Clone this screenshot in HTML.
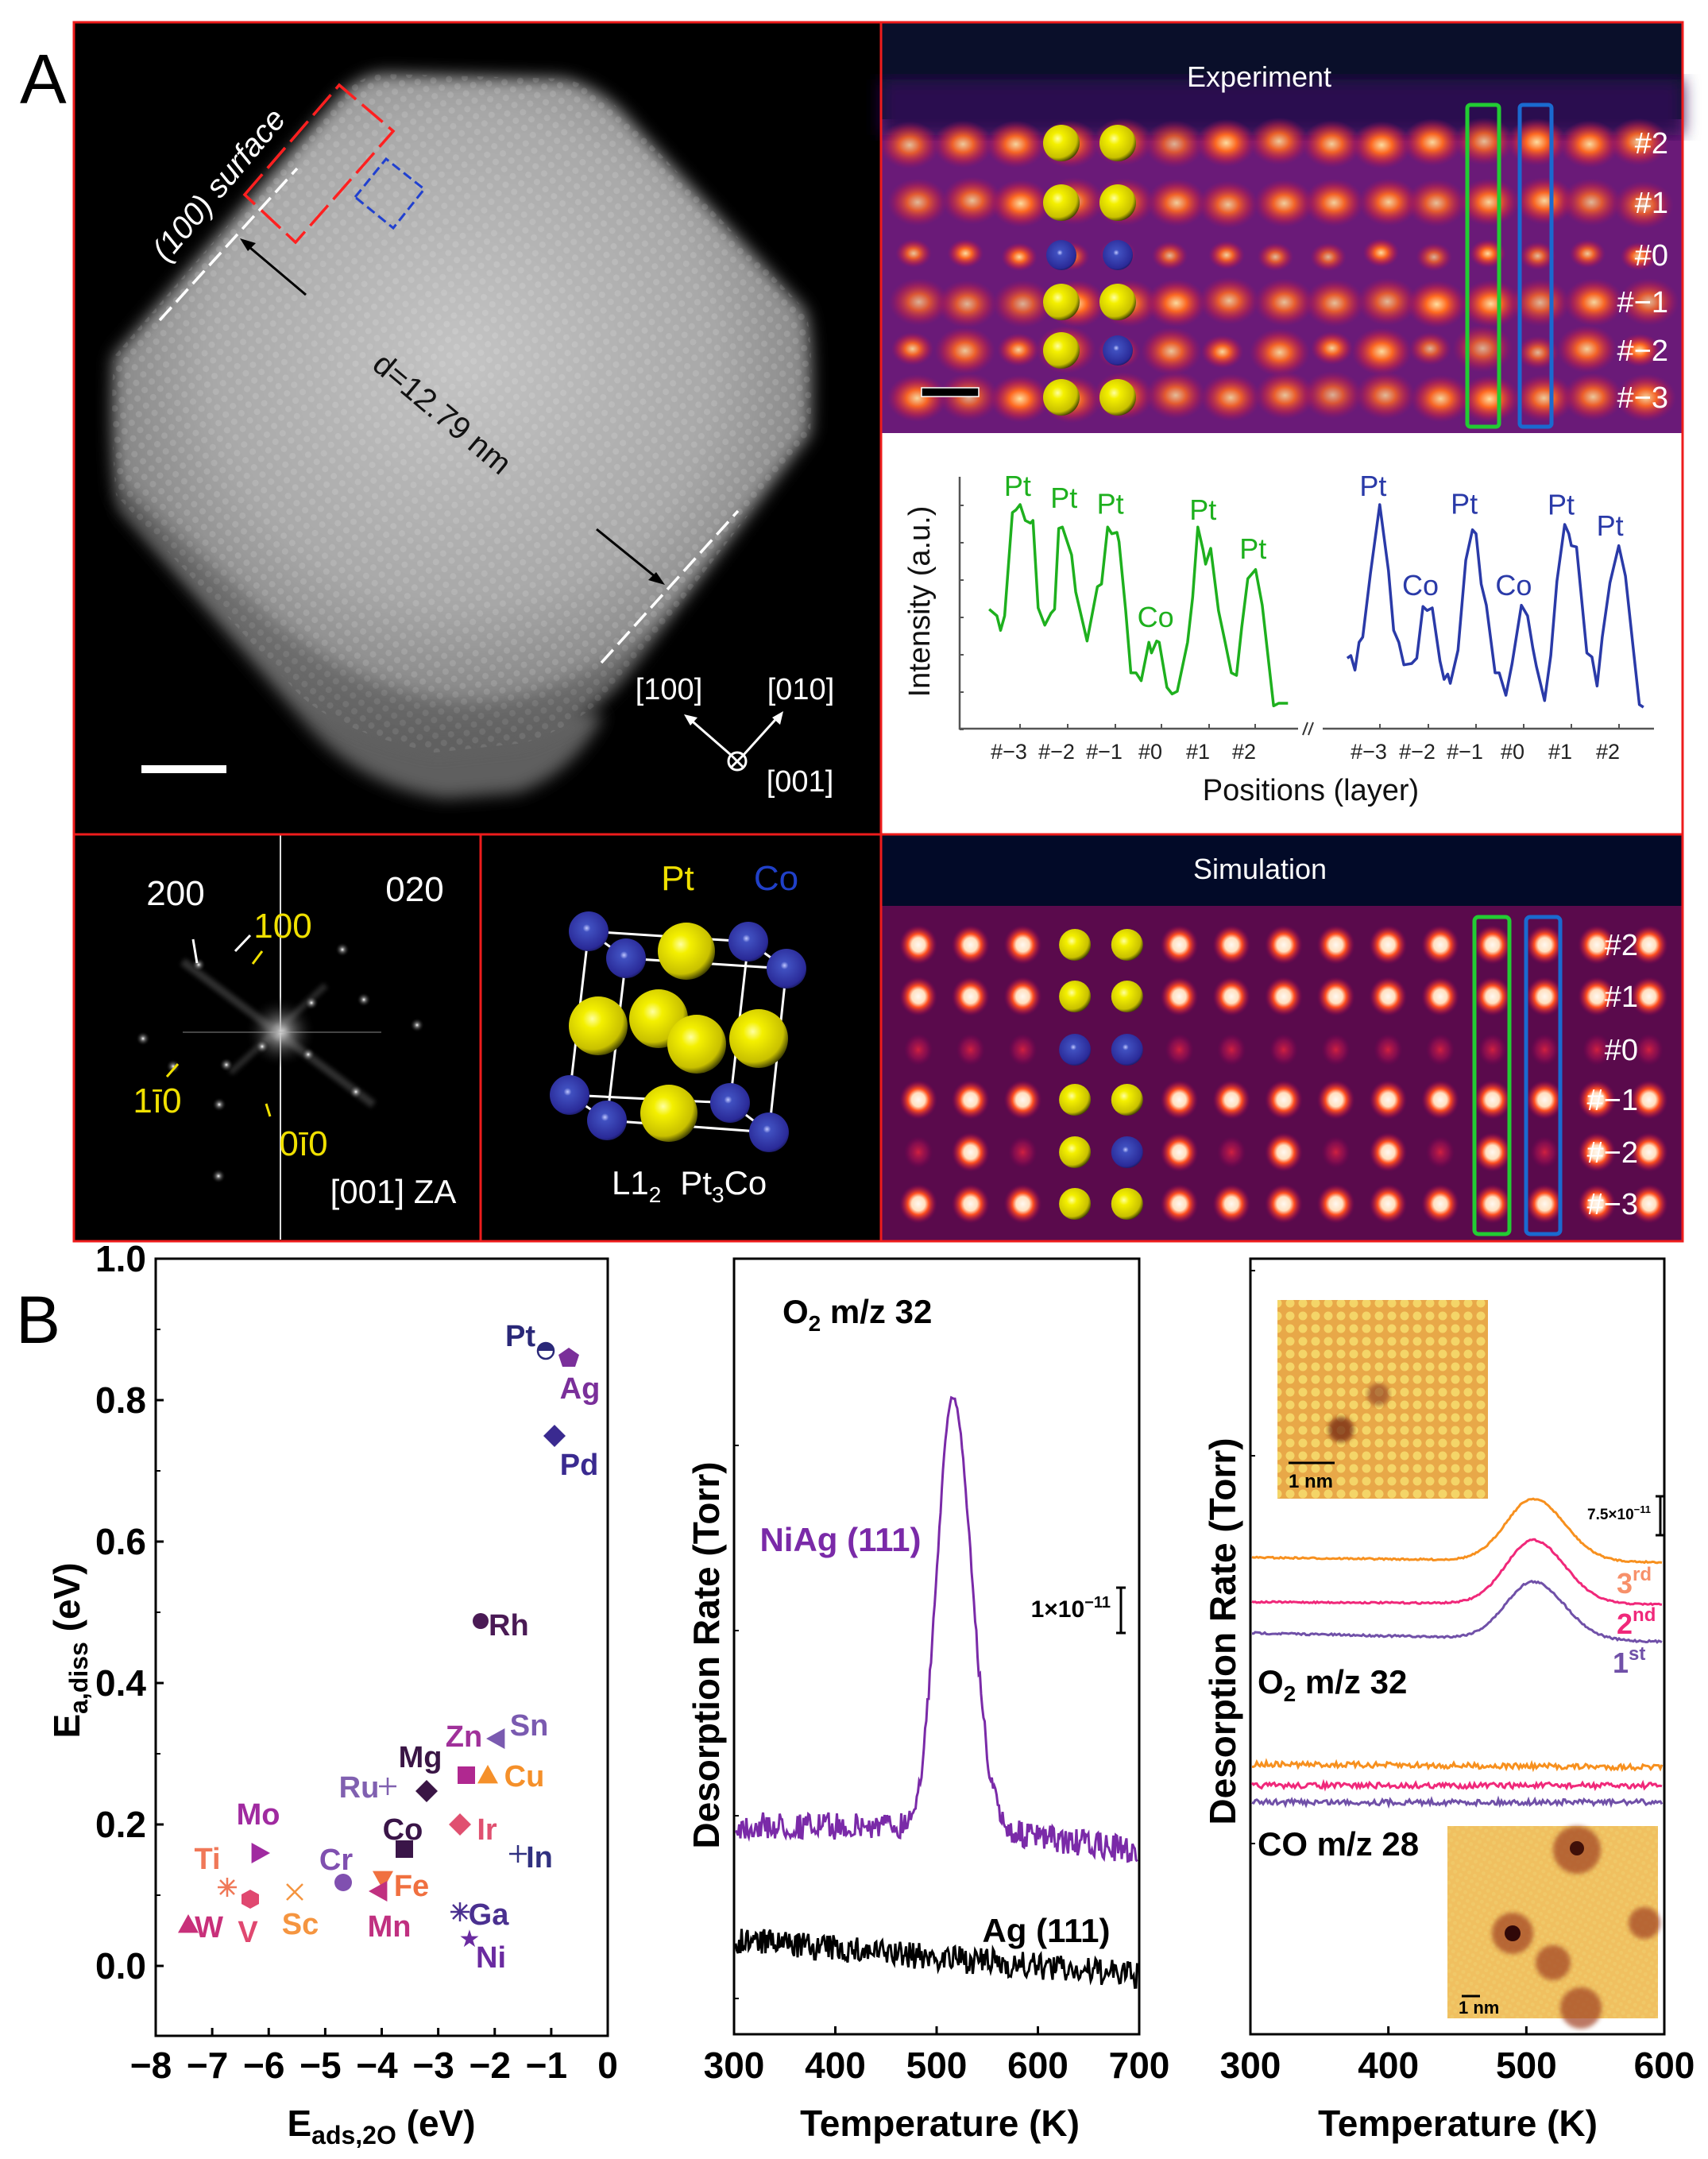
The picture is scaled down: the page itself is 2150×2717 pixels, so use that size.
<!DOCTYPE html>
<html><head><meta charset="utf-8"><style>
html,body{margin:0;padding:0;background:#fff}
svg{display:block}
text{font-family:"Liberation Sans",Arial,sans-serif}
.b{font-weight:bold}
</style></head><body>
<svg id="s" width="2150" height="2717" viewBox="0 0 2150 2717" xmlns="http://www.w3.org/2000/svg">
<defs>
<radialGradient id="ysph" cx="0.4" cy="0.38" r="0.65"><stop offset="0" stop-color="#ffffa0"/><stop offset="0.25" stop-color="#f4f000"/><stop offset="0.8" stop-color="#c8c000"/><stop offset="1" stop-color="#404000"/></radialGradient>
<radialGradient id="bsph" cx="0.45" cy="0.42" r="0.65"><stop offset="0" stop-color="#c0c8ff"/><stop offset="0.15" stop-color="#4050c0"/><stop offset="0.8" stop-color="#2a2a98"/><stop offset="1" stop-color="#101040"/></radialGradient>
<radialGradient id="blob"><stop offset="0" stop-color="#ffe0a0"/><stop offset="0.35" stop-color="#ff6a20"/><stop offset="0.7" stop-color="#d02840" stop-opacity="0.6"/><stop offset="1" stop-color="#a01060" stop-opacity="0"/></radialGradient>
<radialGradient id="sblob"><stop offset="0" stop-color="#fff8f0"/><stop offset="0.35" stop-color="#ffe0c0"/><stop offset="0.55" stop-color="#ff5020"/><stop offset="0.8" stop-color="#c02040" stop-opacity="0.5"/><stop offset="1" stop-color="#800050" stop-opacity="0"/></radialGradient>
<radialGradient id="dblob"><stop offset="0" stop-color="#d02040"/><stop offset="0.6" stop-color="#a01050" stop-opacity="0.6"/><stop offset="1" stop-color="#800050" stop-opacity="0"/></radialGradient>
<radialGradient id="part" cx="0.5" cy="0.42" r="0.6"><stop offset="0" stop-color="#c4c4c4"/><stop offset="0.6" stop-color="#a8a8a8"/><stop offset="1" stop-color="#707070"/></radialGradient>
<radialGradient id="star"><stop offset="0" stop-color="#fff"/><stop offset="0.3" stop-color="#aaa" stop-opacity="0.6"/><stop offset="1" stop-color="#000" stop-opacity="0"/></radialGradient>
<filter id="blur8"><feGaussianBlur stdDeviation="10"/></filter>
<filter id="blur3"><feGaussianBlur stdDeviation="3"/></filter>
<pattern id="lat" width="14" height="14" patternUnits="userSpaceOnUse" patternTransform="rotate(40)"><circle cx="7" cy="7" r="4" fill="#fff" opacity="0.12"/></pattern>
<pattern id="stmp" width="16" height="16" patternUnits="userSpaceOnUse"><circle cx="8" cy="8" r="5.5" fill="#f8e070" opacity="0.8"/></pattern>
<pattern id="stmp2" width="8" height="8" patternUnits="userSpaceOnUse" patternTransform="rotate(30)"><circle cx="4" cy="4" r="2.5" fill="#f0d070" opacity="0.5"/></pattern>
</defs>

<text x="25" y="130" font-size="88" fill="#000">A</text>
<rect x="93" y="28" width="2025" height="1534" fill="#000"/>
<!-- darker lower band -->
<path d="M150,640 L380,905 Q450,990 560,1005 L650,998 Q720,975 760,900 L700,890 Q560,900 420,840 Q260,740 150,620Z" fill="#5e5e5e" filter="url(#blur8)"/>
<path d="M482,93 L709,99 Q760,110 800,160 L1013,390 Q1025,420 1020,546 L790,846 Q740,910 660,935 L547,947 Q420,920 372,869 L146,623 Q138,540 143,449 L420,130 Q450,95 482,93Z" fill="url(#part)" filter="url(#blur8)"/>
<path d="M482,93 L709,99 Q760,110 800,160 L1013,390 Q1025,420 1020,546 L790,846 Q740,910 660,935 L547,947 Q420,920 372,869 L146,623 Q138,540 143,449 L420,130 Q450,95 482,93Z" fill="url(#lat)"/>
<path d="M146,623 L372,869 Q420,920 547,947 L660,935 Q740,910 790,846 L860,760 Q700,900 560,880 Q420,860 300,740 Q200,650 146,600Z" fill="#000" opacity="0.2" filter="url(#blur8)"/>
<polygon points="308,245 427,107 495,165 372,305" fill="none" stroke="#ff2020" stroke-width="3.5" stroke-dasharray="34,10"/>
<polygon points="447,248 486,200 534,238 495,287" fill="none" stroke="#2040d0" stroke-width="3" stroke-dasharray="12,6"/>
<line x1="201" y1="403" x2="374" y2="212" stroke="#fff" stroke-width="3.5" stroke-dasharray="22,9"/>
<line x1="757" y1="834" x2="929" y2="643" stroke="#fff" stroke-width="3.5" stroke-dasharray="22,9"/>
<line x1="385" y1="371" x2="308" y2="306" stroke="#000" stroke-width="3"/><polygon points="302,300 322,306 312,316" fill="#000"/>
<line x1="751" y1="666" x2="830" y2="730" stroke="#000" stroke-width="3"/><polygon points="837,736 816,730 826,720" fill="#000"/>
<text transform="translate(275,232) rotate(-50)" text-anchor="middle" font-size="40" fill="#fff" dy="14" font-style="italic">(100) surface</text>
<text transform="translate(557,520) rotate(40)" text-anchor="middle" font-size="40" fill="#111" dy="14">d=12.79 nm</text>
<rect x="178" y="963" width="107" height="10" fill="#fff"/>
<text x="842" y="880" text-anchor="middle" font-size="38" fill="#fff">[100]</text>
<text x="1008" y="880" text-anchor="middle" font-size="38" fill="#fff">[010]</text>
<text x="1007" y="996" text-anchor="middle" font-size="38" fill="#fff">[001]</text>
<circle cx="928" cy="958" r="11" fill="none" stroke="#fff" stroke-width="3"/>
<path d="M920,950 L936,966 M936,950 L920,966 M920,950 L866,903 M936,950 L982,899" stroke="#fff" stroke-width="3"/>
<polygon points="861,899 878,903 869,913" fill="#fff"/><polygon points="986,895 982,912 972,903" fill="#fff"/>

<g id="exp"><rect x="1109" y="28" width="1009" height="517" fill="#0a0f2a"/>
<rect x="1109" y="150" width="1009" height="395" fill="#6a1a78"/>
<rect x="1109" y="100" width="1009" height="70" fill="#2a1050" filter="url(#blur8)"/></g>
<text x="1585" y="109" text-anchor="middle" font-size="36" fill="#fff">Experiment</text>

<rect x="1109" y="545" width="1009" height="505" fill="#fff"/>
<g id="intens"></g>

<g id="fft">
<line x1="353" y1="1050" x2="353" y2="1560" stroke="#ddd" stroke-width="2"/>
<circle cx="353" cy="1299" r="45" fill="url(#star)"/>
<line x1="230" y1="1210" x2="470" y2="1390" stroke="#888" stroke-width="10" opacity="0.35" filter="url(#blur3)"/>
<line x1="290" y1="1350" x2="410" y2="1240" stroke="#888" stroke-width="8" opacity="0.3" filter="url(#blur3)"/>
<line x1="230" y1="1299" x2="480" y2="1299" stroke="#aaa" stroke-width="2" opacity="0.4"/>
</g>
<text x="221" y="1139" text-anchor="middle" font-size="44" fill="#fff">200</text>
<text x="522" y="1134" text-anchor="middle" font-size="44" fill="#fff">020</text>
<text x="356" y="1180" text-anchor="middle" font-size="44" fill="#f0e000">100</text>
<text x="198" y="1400" text-anchor="middle" font-size="44" fill="#f0e000">1ī0</text>
<text x="382" y="1454" text-anchor="middle" font-size="44" fill="#f0e000">0ī0</text>
<text x="495" y="1514" text-anchor="middle" font-size="42" fill="#fff">[001] ZA</text>
<path d="M243,1182 L248,1212 M315,1177 L296,1197" stroke="#fff" stroke-width="3"/>
<path d="M330,1197 L318,1213 M224,1339 L210,1355 M335,1389 L340,1405" stroke="#f0e000" stroke-width="3"/>

<g stroke="#fff" stroke-width="3" fill="none">
<path d="M741,1172 L942,1185 L990,1219 L788,1206 Z M717,1378 L919,1388 L968,1425 L764,1410 Z M741,1172 L717,1378 M788,1206 L764,1410 M942,1185 L919,1388 M990,1219 L968,1425"/>
</g>
<g id="cube"></g>
<text x="853" y="1120" text-anchor="middle" font-size="44" fill="#f0e000">Pt</text>
<text x="977" y="1120" text-anchor="middle" font-size="44" fill="#2040c8">Co</text>
<text x="770" y="1503" font-size="42" fill="#fff">L1<tspan font-size="28" dy="10">2</tspan><tspan dy="-10" dx="24">Pt</tspan><tspan font-size="28" dy="10">3</tspan><tspan dy="-10">Co</tspan></text>

<rect x="1109" y="1050" width="1009" height="512" fill="#020a28"/>
<rect x="1109" y="1140" width="1009" height="422" fill="#5a0a4c"/>
<g id="sim"></g>
<text x="1586" y="1106" text-anchor="middle" font-size="36" fill="#fff">Simulation</text>

<g stroke="#ee1c1c" stroke-width="3" fill="none">
<rect x="93" y="28" width="2025" height="1534"/>
<line x1="1109" y1="28" x2="1109" y2="1562"/>
<line x1="93" y1="1050" x2="2118" y2="1050"/>
<line x1="605" y1="1050" x2="605" y2="1562"/>
</g>

<text x="20" y="1690" font-size="84" fill="#000">B</text>
<g id="p1"></g>
<g id="p2"></g>
<g id="p3"></g>
</svg>
<script>
var NS="http://www.w3.org/2000/svg";
function el(p,t,a,txt){var e=document.createElementNS(NS,t);for(var k in a)e.setAttribute(k,a[k]);if(txt!=null)e.textContent=txt;document.getElementById(p).appendChild(e);return e;}
var seed=7;function rnd(){seed=(seed*16807)%2147483647;return seed/2147483647;}
function ptsPath(arr){return arr.map(function(p,i){return (i?"L":"M")+p[0].toFixed(1)+","+p[1].toFixed(1);}).join("");}

var rowsE=[180,255,321,380,441,500];
for(var r=0;r<6;r++){for(var c=0;c<15;c++){var x=1149+c*65.5+(r%2?6:0);var s=(r==2)?0.6:(r==4&&c%2==0?0.7:1);
 el("exp","ellipse",{cx:x+rnd()*8-4,cy:rowsE[r]+rnd()*6-3,rx:38*s,ry:30*s,fill:"url(#blob)",opacity:0.75+rnd()*0.25});}}
for(var i=0;i<6;i++){
 var cols=[1336,1407];for(var j=0;j<2;j++){var blue=(i==2)||(i==4&&j==1);
 el("exp","circle",{cx:cols[j],cy:rowsE[i],r:blue?19:23,fill:blue?"url(#bsph)":"url(#ysph)"});}}
el("exp","rect",{x:1160,y:488,width:72,height:11,fill:"#000",stroke:"#fff","stroke-width":1.5});
el("exp","rect",{x:1847,y:132,width:40,height:405,rx:4,fill:"none",stroke:"#22cc33","stroke-width":5});
el("exp","rect",{x:1913,y:132,width:40,height:405,rx:4,fill:"none",stroke:"#1a6ad0","stroke-width":5});
var labs=["#2","#1","#0","#−1","#−2","#−3"];
labs.forEach(function(l,i){el("exp","text",{x:2100,y:rowsE[i]+13,"text-anchor":"end","font-size":38,fill:"#fff"},l);});

var rowsS=[1189,1254,1321,1384,1450,1515];
for(var r=0;r<6;r++){for(var c=0;c<15;c++){if(c==3||c==4)continue;var x=1156+c*65.7;
 var dim=(r==2)||(r==4&&(c%2==0)&&c<13)||(r==4&&c==12);
 el("sim","ellipse",{cx:x,cy:rowsS[r],rx:dim?18:24,ry:dim?20:25,fill:dim?"url(#dblob)":"url(#sblob)"});}
 for(var j=0;j<2;j++){var blue=(r==2)||(r==4&&j==1);el("sim","circle",{cx:1156+(3+j)*65.7,cy:rowsS[r],r:20,fill:blue?"url(#bsph)":"url(#ysph)"});}
 el("sim","text",{x:2062,y:rowsS[r]+13,"text-anchor":"end","font-size":38,fill:"#fff"},labs[r]);}
el("sim","rect",{x:1856,y:1154,width:44,height:399,rx:5,fill:"none",stroke:"#22cc33","stroke-width":5});
el("sim","rect",{x:1921,y:1154,width:43,height:399,rx:5,fill:"none",stroke:"#1a6ad0","stroke-width":5});

[[741,1172],[942,1185]].forEach(function(p){el("cube","circle",{cx:p[0],cy:p[1],r:25,fill:"url(#bsph)"});});
el("cube","circle",{cx:864,cy:1197,r:36,fill:"url(#ysph)"});
[[788,1206],[990,1219]].forEach(function(p){el("cube","circle",{cx:p[0],cy:p[1],r:25,fill:"url(#bsph)"});});
[[753,1291],[829,1282],[955,1307],[877,1314]].forEach(function(p){el("cube","circle",{cx:p[0],cy:p[1],r:37,fill:"url(#ysph)"});});
[[717,1378],[919,1388]].forEach(function(p){el("cube","circle",{cx:p[0],cy:p[1],r:25,fill:"url(#bsph)"});});
el("cube","circle",{cx:842,cy:1401,r:36,fill:"url(#ysph)"});
[[764,1410],[968,1425]].forEach(function(p){el("cube","circle",{cx:p[0],cy:p[1],r:25,fill:"url(#bsph)"});});
[[250,1214],[431,1195],[330,1317],[392,1262],[285,1340],[388,1327],[276,1390],[448,1374],[180,1307],[525,1290],[218,1342],[458,1258],[275,1480]].forEach(function(p){el("fft","circle",{cx:p[0],cy:p[1],r:9,fill:"url(#star)"});});

function conv(a){return a.map(function(p){return [1109+p[0]/1.542,545+p[1]/3];});}
var G=[[210,665],[225,690],[232,745],[240,690],[255,300],[262,290],[270,270],[280,330],[290,340],[295,330],[305,660],[318,725],[330,680],[337,665],[345,360],[352,355],[370,460],[378,600],[400,785],[420,580],[428,570],[440,355],[448,380],[458,375],[462,410],[475,670],[485,905],[495,905],[505,935],[520,790],[525,830],[535,785],[540,790],[555,960],[565,985],[575,975],[595,790],[605,620],[615,355],[625,440],[630,495],[640,435],[655,670],[668,790],[680,905],[690,915],[700,735],[712,550],[727,515],[740,650],[762,1030],[772,1020],[790,1020]];
var B=[[905,850],[912,840],[920,895],[928,790],[935,770],[950,530],[968,270],[985,520],[995,745],[1005,790],[1015,875],[1030,870],[1040,850],[1052,655],[1060,670],[1070,660],[1085,860],[1093,930],[1100,910],[1105,945],[1120,820],[1135,480],[1148,365],[1155,380],[1165,570],[1175,650],[1192,905],[1200,905],[1213,990],[1225,870],[1243,650],[1255,690],[1265,810],[1272,880],[1288,1010],[1300,840],[1312,560],[1327,345],[1335,380],[1340,425],[1350,430],[1370,830],[1380,845],[1390,955],[1400,770],[1415,565],[1432,425],[1445,540],[1460,810],[1472,1025],[1480,1035]];
el("intens","path",{d:ptsPath(conv(G)),fill:"none",stroke:"#1eb01e","stroke-width":3.5,"stroke-linejoin":"round"});
el("intens","path",{d:ptsPath(conv(B)),fill:"none",stroke:"#2a3aa8","stroke-width":3.5,"stroke-linejoin":"round"});
el("intens","path",{d:"M1208,600 L1208,917 L1634,917 M1665,917 L2082,917",fill:"none",stroke:"#555","stroke-width":2.5});
el("intens","path",{d:"M1640,925 L1646,909 M1647,925 L1653,909",fill:"none",stroke:"#333","stroke-width":2});
for(var k=0;k<7;k++){var yy=636+k*47;el("intens","line",{x1:1208,x2:1213,y1:yy,y2:yy,stroke:"#555","stroke-width":2});}
var t1=[1284,1344,1404,1462,1522,1580],t2=[1737,1798,1858,1918,1978,2038],tl=["#−3","#−2","#−1","#0","#1","#2"];
t1.concat(t2).forEach(function(x,i){el("intens","line",{x1:x,x2:x,y1:917,y2:911,stroke:"#555","stroke-width":2});
 el("intens","text",{x:x-14,y:955,"text-anchor":"middle","font-size":27,fill:"#222"},tl[i%6]);});
el("intens","text",{x:1650,y:1007,"text-anchor":"middle","font-size":38,fill:"#111"},"Positions (layer)");
el("intens","text",{transform:"translate(1170,757) rotate(-90)","text-anchor":"middle","font-size":38,fill:"#111"},"Intensity (a.u.)");
[[265,195],[355,240],[445,262],[625,285],[722,432]].forEach(function(p){el("intens","text",{x:1109+p[0]/1.542,y:545+p[1]/3+14,"text-anchor":"middle","font-size":36,fill:"#1eb01e"},"Pt");});
el("intens","text",{x:1109+533/1.542,y:545+690/3+14,"text-anchor":"middle","font-size":36,fill:"#1eb01e"},"Co");
[[955,195],[1132,262],[1320,265],[1415,345]].forEach(function(p){el("intens","text",{x:1109+p[0]/1.542,y:545+p[1]/3+14,"text-anchor":"middle","font-size":36,fill:"#2a3aa8"},"Pt");});
[[1047,570],[1228,570]].forEach(function(p){el("intens","text",{x:1109+p[0]/1.542,y:545+p[1]/3+14,"text-anchor":"middle","font-size":36,fill:"#2a3aa8"},"Co");});

var L=196,R=765,T=1584,Bt=2562;
function X1(v){return L+(v+8)*(R-L)/8;} function Y1(v){return 2474-v*890;}
el("p1","rect",{x:L,y:T,width:R-L,height:Bt-T,fill:"none",stroke:"#000","stroke-width":3});
for(var v=0;v<=5;v++){var y=Y1(v*0.2);el("p1","line",{x1:L,x2:L+10,y1:y,y2:y,stroke:"#000","stroke-width":3});
 el("p1","text",{x:184,y:y+16,"text-anchor":"end","font-size":46,"class":"b"},(v*0.2).toFixed(1));
 if(v<5){var y2=Y1(v*0.2+0.1);el("p1","line",{x1:L,x2:L+6,y1:y2,y2:y2,stroke:"#000","stroke-width":2});}}
for(var v=-8;v<=0;v++){var x=X1(v);el("p1","line",{x1:x,x2:x,y1:Bt,y2:Bt-10,stroke:"#000","stroke-width":3});
 el("p1","text",{x:x-(v<0?6:0),y:2615,"text-anchor":"middle","font-size":46,"class":"b"},v<0?"−"+(-v):"0");}
el("p1","text",{x:480,y:2688,"text-anchor":"middle","font-size":46,"class":"b"}).innerHTML='E<tspan font-size="32" dy="10">ads,2O</tspan><tspan dy="-10"> (eV)</tspan>';
el("p1","text",{transform:"translate(100,2077) rotate(-90)","text-anchor":"middle","font-size":46,"class":"b"}).innerHTML='E<tspan font-size="32" dy="10">a,diss</tspan><tspan dy="-10"> (eV)</tspan>';
function lab(x,y,t,c,anc){el("p1","text",{x:x,y:y+14,"text-anchor":anc||"middle","font-size":38,"class":"b",fill:c},t);}
function tri(x,y,dir,c,s){s=s||13;var p;if(dir=="u")p=[[x,y-s],[x+s,y+s*0.8],[x-s,y+s*0.8]];if(dir=="d")p=[[x,y+s],[x+s,y-s*0.8],[x-s,y-s*0.8]];if(dir=="l")p=[[x-s,y],[x+s*0.8,y-s],[x+s*0.8,y+s]];if(dir=="r")p=[[x+s,y],[x-s*0.8,y-s],[x-s*0.8,y+s]];el("p1","polygon",{points:p.map(function(a){return a.join(",");}).join(" "),fill:c});}
function dia(x,y,c){el("p1","polygon",{points:[x,y-14,x+14,y,x,y+14,x-14,y].join(","),fill:c});}
function sq(x,y,c){el("p1","rect",{x:x-11,y:y-11,width:22,height:22,fill:c});}
function plus(x,y,c){el("p1","path",{d:"M"+(x-11)+","+y+"h22M"+x+","+(y-11)+"v22",stroke:c,"stroke-width":2.5});}
function ast(x,y,c){el("p1","path",{d:"M"+(x-12)+","+y+"h24M"+x+","+(y-12)+"v24M"+(x-9)+","+(y-9)+"l18,18M"+(x+9)+","+(y-9)+"l-18,18",stroke:c,"stroke-width":2.5});}
lab(655,1680,"Pt","#2a2878");
el("p1","circle",{cx:687,cy:1700,r:10,fill:"#fff",stroke:"#2a2878","stroke-width":2.5});el("p1","path",{d:"M677,1700 A10,10 0 0 1 697,1700Z",fill:"#2a2878"});
el("p1","polygon",{points:"716,1696 729,1705 724,1720 708,1720 703,1705",fill:"#7a2f9a"});lab(730,1746,"Ag","#7a2f9a");
dia(698,1807,"#3a2a90");lab(729,1842,"Pd","#3a2a90");
el("p1","circle",{cx:605,cy:2040,r:10,fill:"#4a1a55"});lab(615,2044,"Rh","#4a1a55","start");
tri(625,2188,"l","#7a5ab0");lab(666,2170,"Sn","#7a5ab0");lab(584,2184,"Zn","#a0309a");
dia(537,2254,"#3a1545");lab(529,2210,"Mg","#3a1545");
lab(452,2248,"Ru","#8060b0");plus(488,2248,"#8060b0");
sq(587,2234,"#b02890");tri(614,2234,"u","#f5902a");lab(660,2234,"Cu","#f5902a");
dia(579,2296,"#e05070");lab(613,2301,"Ir","#e05070");
sq(509,2327,"#3a1548");lab(507,2301,"Co","#3a1548");
plus(652,2333,"#303080");lab(679,2336,"In","#303080");
tri(327,2332,"r","#a02aa0");lab(325,2282,"Mo","#a02aa0");
lab(261,2338,"Ti","#f07858");ast(286,2375,"#f07858");
el("p1","circle",{cx:432,cy:2369,r:11,fill:"#8050b0"});lab(423,2339,"Cr","#8050b0");
tri(482,2365,"d","#f07040");lab(518,2372,"Fe","#f07040");
tri(477,2380,"l","#c03080");lab(490,2423,"Mn","#c03080");
el("p1","path",{d:"M361,2371l20,20M381,2371l-20,20",stroke:"#f59540","stroke-width":2.5});lab(378,2420,"Sc","#f59540");
el("p1","polygon",{points:"315,2378 326,2384 326,2396 315,2402 304,2396 304,2384",fill:"#e04870"});lab(312,2430,"V","#e04870");
tri(237,2422,"u","#c8307a");lab(263,2424,"W","#c8307a");
ast(579,2406,"#4a3090");lab(615,2408,"Ga","#4a3090");
el("p1","text",{x:591,y:2450,"text-anchor":"middle","font-size":30,fill:"#6a2aa0"},"★");lab(618,2462,"Ni","#6a2aa0");

var L2=924,R2=1434;
el("p2","rect",{x:L2,y:1584,width:R2-L2,height:2560-1584,fill:"none",stroke:"#000","stroke-width":3});
[1819,2052,2285,2515].forEach(function(y){el("p2","line",{x1:L2,x2:L2+6,y1:y,y2:y,stroke:"#000","stroke-width":2});});
for(var v=300;v<=700;v+=100){var x=L2+(v-300)*(R2-L2)/400;el("p2","line",{x1:x,x2:x,y1:2560,y2:2550,stroke:"#000","stroke-width":3});
 el("p2","text",{x:x,y:2615,"text-anchor":"middle","font-size":46,"class":"b"},v);}
el("p2","text",{x:1183,y:2688,"text-anchor":"middle","font-size":46,"class":"b"},"Temperature (K)");
el("p2","text",{transform:"translate(905,2083) rotate(-90)","text-anchor":"middle","font-size":46,"class":"b"},"Desorption Rate (Torr)");
el("p2","text",{x:985,y:1665,"font-size":42,"class":"b"}).innerHTML='O<tspan font-size="28" dy="10">2</tspan><tspan dy="-10"> m/z 32</tspan>';
var pp=[],pb=[];
for(var x=L2+2;x<=R2-2;x+=1.5){var t=300+(x-L2)*400/(R2-L2);
 var base=2298+(t>520?(t-520)/180*32:0);
 var pk=540*Math.exp(-Math.pow((t-516)/(t<516?22:26),2));
 var n=(rnd()-0.5)*34*(1-pk/600);
 pp.push([x,base-pk+n]);
 pb.push([x,2441+(t-300)/400*45+(rnd()-0.5)*34]);}
el("p2","path",{d:ptsPath(pp),fill:"none",stroke:"#7a2aa8","stroke-width":3});
el("p2","path",{d:ptsPath(pb),fill:"none",stroke:"#000","stroke-width":3});
el("p2","text",{x:1058,y:1952,"text-anchor":"middle","font-size":42,"class":"b",fill:"#7a2aa8"},"NiAg (111)");
el("p2","text",{x:1317,y:2444,"text-anchor":"middle","font-size":42,"class":"b"},"Ag (111)");
el("p2","path",{d:"M1405,1998h12M1411,1998v57M1405,2055h12",stroke:"#000","stroke-width":3,fill:"none"});
el("p2","text",{x:1398,y:2035,"text-anchor":"end","font-size":30,"class":"b"}).innerHTML='1×10<tspan font-size="20" dy="-12">−11</tspan>';

var L3=1574,R3=2095;
el("p3","rect",{x:1608,y:1636,width:265,height:250,fill:"#e8a848"});
el("p3","rect",{x:1608,y:1636,width:265,height:250,fill:"url(#stmp)"});
el("p3","circle",{cx:1688,cy:1799,r:16,fill:"#6a1a10",opacity:0.7,filter:"url(#blur3)"});
el("p3","circle",{cx:1735,cy:1755,r:14,fill:"#8a3a20",opacity:0.6,filter:"url(#blur3)"});
el("p3","line",{x1:1622,y1:1841,x2:1680,y2:1841,stroke:"#000","stroke-width":3});
el("p3","text",{x:1622,y:1872,"font-size":24,"class":"b"},"1 nm");
el("p3","rect",{x:1822,y:2298,width:265,height:242,fill:"#f0c060"});
el("p3","rect",{x:1822,y:2298,width:265,height:242,fill:"url(#stmp2)"});
[[1904,2433,26],[1985,2328,30],[1990,2527,26],[2070,2420,20],[1955,2470,22]].forEach(function(c){el("p3","circle",{cx:c[0],cy:c[1],r:c[2],fill:"#a04020",opacity:0.7,filter:"url(#blur3)"});});
el("p3","circle",{cx:1904,cy:2433,r:10,fill:"#300808"});el("p3","circle",{cx:1985,cy:2326,r:9,fill:"#401008"});
el("p3","line",{x1:1840,y1:2512,x2:1863,y2:2512,stroke:"#000","stroke-width":3});
el("p3","text",{x:1836,y:2534,"font-size":22,"class":"b"},"1 nm");
el("p3","rect",{x:L3,y:1584,width:R3-L3,height:2560-1584,fill:"none",stroke:"#000","stroke-width":3});
[1599,1832,2320].forEach(function(y){el("p3","line",{x1:L3,x2:L3+6,y1:y,y2:y,stroke:"#000","stroke-width":2});});
for(var v=300;v<=600;v+=100){var x=L3+(v-300)*(R3-L3)/300;el("p3","line",{x1:x,x2:x,y1:2560,y2:2550,stroke:"#000","stroke-width":3});
 el("p3","text",{x:x,y:2615,"text-anchor":"middle","font-size":46,"class":"b"},v);}
el("p3","text",{x:1835,y:2688,"text-anchor":"middle","font-size":46,"class":"b"},"Temperature (K)");
el("p3","text",{transform:"translate(1555,2053) rotate(-90)","text-anchor":"middle","font-size":46,"class":"b"},"Desorption Rate (Torr)");
function tpd(b0,b1,h,c,noise){var a=[];for(var x=L3+2;x<=R3-2;x+=2){var t=300+(x-L3)*300/(R3-L3);
 var pk=h*Math.exp(-Math.pow((t-505)/(t<505?28:32),2));a.push([x,b0+(b1-b0)*(t-300)/300-pk+(rnd()-0.5)*noise]);}
 el("p3","path",{d:ptsPath(a),fill:"none",stroke:c,"stroke-width":3});}
tpd(1960,1966,78,"#f7901e",2);tpd(2016,2019,80,"#f0287a",2);tpd(2055,2066,72,"#7050a8",2.5);
tpd(2220,2224,0,"#f7901e",7);tpd(2247,2247,0,"#f0287a",7);tpd(2268,2268,0,"#7050a8",7);
el("p3","path",{d:"M2084,1883h12M2090,1883v49M2084,1932h12",stroke:"#000","stroke-width":3,fill:"none"});
el("p3","text",{x:2078,y:1912,"text-anchor":"end","font-size":19,"class":"b"}).innerHTML='7.5×10<tspan font-size="13" dy="-8">−11</tspan>';
el("p3","text",{x:2035,y:2005,"font-size":36,"class":"b",fill:"#f7906a"}).innerHTML='3<tspan font-size="24" dy="-16">rd</tspan>';
el("p3","text",{x:2035,y:2056,"font-size":36,"class":"b",fill:"#f0287a"}).innerHTML='2<tspan font-size="24" dy="-16">nd</tspan>';
el("p3","text",{x:2030,y:2105,"font-size":36,"class":"b",fill:"#7050a8"}).innerHTML='1<tspan font-size="24" dy="-16">st</tspan>';
el("p3","text",{x:1583,y:2131,"font-size":42,"class":"b"}).innerHTML='O<tspan font-size="28" dy="10">2</tspan><tspan dy="-10"> m/z 32</tspan>';
el("p3","text",{x:1583,y:2335,"font-size":42,"class":"b"},"CO m/z 28");
</script>
</body></html>
